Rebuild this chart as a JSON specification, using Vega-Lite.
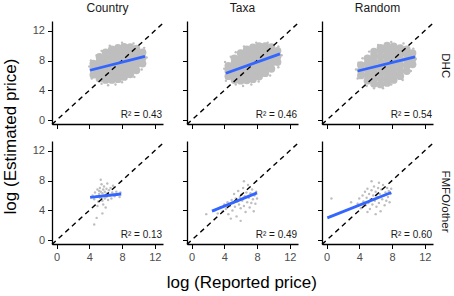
{
"$schema":"https://vega.github.io/schema/vega-lite/v6.json",
"background":"white",
"padding":{"left":2,"top":2,"right":0,"bottom":0},
"config":{
 "view":{"stroke":null},
 "font":"Liberation Sans",
 "axis":{"grid":false,"domainColor":"black","domainWidth":1.3,"tickColor":"black","tickWidth":1,"tickSize":4.5,"labelColor":"#4D4D4D","labelFontSize":11,"labelPadding":3,"titleFontSize":17,"titleFontWeight":"normal","titleColor":"black","titlePadding":7},
 "title":{"fontSize":12,"fontWeight":"normal","color":"#1A1A1A","offset":5}
},
"data":{"values":[
{"c":"Country","r":"DHC","k":"p","x":4.5,"y":6.1},{"c":"Country","r":"DHC","k":"p","x":4.5,"y":6.85},{"c":"Country","r":"DHC","k":"p","x":4.5,"y":7.6},
{"c":"Country","r":"DHC","k":"p","x":5.25,"y":5.6},{"c":"Country","r":"DHC","k":"p","x":5.25,"y":6.35},{"c":"Country","r":"DHC","k":"p","x":5.25,"y":7.1},{"c":"Country","r":"DHC","k":"p","x":5.25,"y":7.85},{"c":"Country","r":"DHC","k":"p","x":5.25,"y":8.5},
{"c":"Country","r":"DHC","k":"p","x":6.0,"y":5.4},{"c":"Country","r":"DHC","k":"p","x":6.0,"y":6.15},{"c":"Country","r":"DHC","k":"p","x":6.0,"y":6.9},{"c":"Country","r":"DHC","k":"p","x":6.0,"y":7.65},{"c":"Country","r":"DHC","k":"p","x":6.0,"y":8.4},{"c":"Country","r":"DHC","k":"p","x":6.0,"y":9.1},
{"c":"Country","r":"DHC","k":"p","x":6.75,"y":5.4},{"c":"Country","r":"DHC","k":"p","x":6.75,"y":6.15},{"c":"Country","r":"DHC","k":"p","x":6.75,"y":6.9},{"c":"Country","r":"DHC","k":"p","x":6.75,"y":7.65},{"c":"Country","r":"DHC","k":"p","x":6.75,"y":8.4},{"c":"Country","r":"DHC","k":"p","x":6.75,"y":9.15},{"c":"Country","r":"DHC","k":"p","x":6.75,"y":9.5},
{"c":"Country","r":"DHC","k":"p","x":7.5,"y":5.5},{"c":"Country","r":"DHC","k":"p","x":7.5,"y":6.25},{"c":"Country","r":"DHC","k":"p","x":7.5,"y":7.0},{"c":"Country","r":"DHC","k":"p","x":7.5,"y":7.75},{"c":"Country","r":"DHC","k":"p","x":7.5,"y":8.5},{"c":"Country","r":"DHC","k":"p","x":7.5,"y":9.25},{"c":"Country","r":"DHC","k":"p","x":7.5,"y":9.7},
{"c":"Country","r":"DHC","k":"p","x":8.25,"y":5.8},{"c":"Country","r":"DHC","k":"p","x":8.25,"y":6.5},{"c":"Country","r":"DHC","k":"p","x":8.25,"y":7.25},{"c":"Country","r":"DHC","k":"p","x":8.25,"y":8.0},{"c":"Country","r":"DHC","k":"p","x":8.25,"y":8.75},{"c":"Country","r":"DHC","k":"p","x":8.25,"y":9.5},{"c":"Country","r":"DHC","k":"p","x":8.25,"y":9.85},
{"c":"Country","r":"DHC","k":"p","x":9.0,"y":6.15},{"c":"Country","r":"DHC","k":"p","x":9.0,"y":6.9},{"c":"Country","r":"DHC","k":"p","x":9.0,"y":7.65},{"c":"Country","r":"DHC","k":"p","x":9.0,"y":8.4},{"c":"Country","r":"DHC","k":"p","x":9.0,"y":9.15},{"c":"Country","r":"DHC","k":"p","x":9.0,"y":9.8},
{"c":"Country","r":"DHC","k":"p","x":9.75,"y":6.7},{"c":"Country","r":"DHC","k":"p","x":9.75,"y":7.45},{"c":"Country","r":"DHC","k":"p","x":9.75,"y":8.2},{"c":"Country","r":"DHC","k":"p","x":9.75,"y":8.95},{"c":"Country","r":"DHC","k":"p","x":9.75,"y":9.6},
{"c":"Country","r":"DHC","k":"p","x":10.5,"y":7.6},{"c":"Country","r":"DHC","k":"p","x":10.5,"y":8.35},{"c":"Country","r":"DHC","k":"p","x":10.5,"y":9.1},
{"c":"Country","r":"DHC","k":"q","x":4.0,"y":7.2},{"c":"Country","r":"DHC","k":"q","x":4.3,"y":5.6},{"c":"Country","r":"DHC","k":"q","x":4.9,"y":8.7},{"c":"Country","r":"DHC","k":"q","x":5.5,"y":4.9},{"c":"Country","r":"DHC","k":"q","x":6.3,"y":4.7},{"c":"Country","r":"DHC","k":"q","x":7.2,"y":4.8},{"c":"Country","r":"DHC","k":"q","x":8.0,"y":5.1},{"c":"Country","r":"DHC","k":"q","x":9.5,"y":5.8},{"c":"Country","r":"DHC","k":"q","x":10.4,"y":6.8},{"c":"Country","r":"DHC","k":"q","x":11.0,"y":8.4},{"c":"Country","r":"DHC","k":"q","x":10.7,"y":9.7},{"c":"Country","r":"DHC","k":"q","x":9.4,"y":10.3},{"c":"Country","r":"DHC","k":"q","x":8.0,"y":10.4},{"c":"Country","r":"DHC","k":"q","x":6.5,"y":10.0},{"c":"Country","r":"DHC","k":"q","x":5.5,"y":9.3},{"c":"Country","r":"DHC","k":"q","x":4.2,"y":8.0},
{"c":"Country","r":"DHC","k":"d","x":-0.55,"y":-0.55},{"c":"Country","r":"DHC","k":"d","x":13,"y":13},
{"c":"Country","r":"DHC","k":"f","x":4.1,"y":6.7},{"c":"Country","r":"DHC","k":"f","x":10.8,"y":8.55},
{"c":"Country","r":"DHC","k":"t","x":12.9,"y":0.3,"lab":"R² = 0.43"},

{"c":"Taxa","r":"DHC","k":"p","x":4.5,"y":5.9},{"c":"Taxa","r":"DHC","k":"p","x":4.5,"y":6.6},{"c":"Taxa","r":"DHC","k":"p","x":4.5,"y":7.3},
{"c":"Taxa","r":"DHC","k":"p","x":5.25,"y":5.4},{"c":"Taxa","r":"DHC","k":"p","x":5.25,"y":6.15},{"c":"Taxa","r":"DHC","k":"p","x":5.25,"y":6.9},{"c":"Taxa","r":"DHC","k":"p","x":5.25,"y":7.65},{"c":"Taxa","r":"DHC","k":"p","x":5.25,"y":8.3},
{"c":"Taxa","r":"DHC","k":"p","x":6.0,"y":5.3},{"c":"Taxa","r":"DHC","k":"p","x":6.0,"y":6.05},{"c":"Taxa","r":"DHC","k":"p","x":6.0,"y":6.8},{"c":"Taxa","r":"DHC","k":"p","x":6.0,"y":7.55},{"c":"Taxa","r":"DHC","k":"p","x":6.0,"y":8.3},{"c":"Taxa","r":"DHC","k":"p","x":6.0,"y":9.0},
{"c":"Taxa","r":"DHC","k":"p","x":6.75,"y":5.35},{"c":"Taxa","r":"DHC","k":"p","x":6.75,"y":6.1},{"c":"Taxa","r":"DHC","k":"p","x":6.75,"y":6.85},{"c":"Taxa","r":"DHC","k":"p","x":6.75,"y":7.6},{"c":"Taxa","r":"DHC","k":"p","x":6.75,"y":8.35},{"c":"Taxa","r":"DHC","k":"p","x":6.75,"y":9.1},{"c":"Taxa","r":"DHC","k":"p","x":6.75,"y":9.5},
{"c":"Taxa","r":"DHC","k":"p","x":7.5,"y":5.5},{"c":"Taxa","r":"DHC","k":"p","x":7.5,"y":6.25},{"c":"Taxa","r":"DHC","k":"p","x":7.5,"y":7.0},{"c":"Taxa","r":"DHC","k":"p","x":7.5,"y":7.75},{"c":"Taxa","r":"DHC","k":"p","x":7.5,"y":8.5},{"c":"Taxa","r":"DHC","k":"p","x":7.5,"y":9.25},{"c":"Taxa","r":"DHC","k":"p","x":7.5,"y":9.75},
{"c":"Taxa","r":"DHC","k":"p","x":8.25,"y":5.85},{"c":"Taxa","r":"DHC","k":"p","x":8.25,"y":6.6},{"c":"Taxa","r":"DHC","k":"p","x":8.25,"y":7.35},{"c":"Taxa","r":"DHC","k":"p","x":8.25,"y":8.1},{"c":"Taxa","r":"DHC","k":"p","x":8.25,"y":8.85},{"c":"Taxa","r":"DHC","k":"p","x":8.25,"y":9.6},{"c":"Taxa","r":"DHC","k":"p","x":8.25,"y":9.95},
{"c":"Taxa","r":"DHC","k":"p","x":9.0,"y":6.3},{"c":"Taxa","r":"DHC","k":"p","x":9.0,"y":7.05},{"c":"Taxa","r":"DHC","k":"p","x":9.0,"y":7.8},{"c":"Taxa","r":"DHC","k":"p","x":9.0,"y":8.55},{"c":"Taxa","r":"DHC","k":"p","x":9.0,"y":9.3},{"c":"Taxa","r":"DHC","k":"p","x":9.0,"y":9.95},
{"c":"Taxa","r":"DHC","k":"p","x":9.75,"y":6.9},{"c":"Taxa","r":"DHC","k":"p","x":9.75,"y":7.65},{"c":"Taxa","r":"DHC","k":"p","x":9.75,"y":8.4},{"c":"Taxa","r":"DHC","k":"p","x":9.75,"y":9.15},{"c":"Taxa","r":"DHC","k":"p","x":9.75,"y":9.8},
{"c":"Taxa","r":"DHC","k":"p","x":10.5,"y":7.8},{"c":"Taxa","r":"DHC","k":"p","x":10.5,"y":8.55},{"c":"Taxa","r":"DHC","k":"p","x":10.5,"y":9.3},
{"c":"Taxa","r":"DHC","k":"q","x":4.0,"y":6.9},{"c":"Taxa","r":"DHC","k":"q","x":4.2,"y":5.3},{"c":"Taxa","r":"DHC","k":"q","x":4.8,"y":8.5},{"c":"Taxa","r":"DHC","k":"q","x":5.4,"y":4.8},{"c":"Taxa","r":"DHC","k":"q","x":6.3,"y":4.6},{"c":"Taxa","r":"DHC","k":"q","x":7.3,"y":4.8},{"c":"Taxa","r":"DHC","k":"q","x":8.2,"y":5.2},{"c":"Taxa","r":"DHC","k":"q","x":9.6,"y":6.0},{"c":"Taxa","r":"DHC","k":"q","x":10.6,"y":7.1},{"c":"Taxa","r":"DHC","k":"q","x":11.0,"y":8.7},{"c":"Taxa","r":"DHC","k":"q","x":10.6,"y":9.9},{"c":"Taxa","r":"DHC","k":"q","x":9.3,"y":10.4},{"c":"Taxa","r":"DHC","k":"q","x":7.9,"y":10.4},{"c":"Taxa","r":"DHC","k":"q","x":6.4,"y":9.9},{"c":"Taxa","r":"DHC","k":"q","x":5.4,"y":9.1},{"c":"Taxa","r":"DHC","k":"q","x":4.1,"y":7.8},
{"c":"Taxa","r":"DHC","k":"d","x":-0.55,"y":-0.55},{"c":"Taxa","r":"DHC","k":"d","x":13,"y":13},
{"c":"Taxa","r":"DHC","k":"f","x":4.2,"y":6.3},{"c":"Taxa","r":"DHC","k":"f","x":10.8,"y":8.9},
{"c":"Taxa","r":"DHC","k":"t","x":12.9,"y":0.3,"lab":"R² = 0.46"},

{"c":"Random","r":"DHC","k":"p","x":4.2,"y":6.0},{"c":"Random","r":"DHC","k":"p","x":4.2,"y":6.7},{"c":"Random","r":"DHC","k":"p","x":4.2,"y":7.4},
{"c":"Random","r":"DHC","k":"p","x":5.0,"y":5.3},{"c":"Random","r":"DHC","k":"p","x":5.0,"y":6.05},{"c":"Random","r":"DHC","k":"p","x":5.0,"y":6.8},{"c":"Random","r":"DHC","k":"p","x":5.0,"y":7.55},{"c":"Random","r":"DHC","k":"p","x":5.0,"y":8.3},
{"c":"Random","r":"DHC","k":"p","x":5.8,"y":4.9},{"c":"Random","r":"DHC","k":"p","x":5.8,"y":5.65},{"c":"Random","r":"DHC","k":"p","x":5.8,"y":6.4},{"c":"Random","r":"DHC","k":"p","x":5.8,"y":7.15},{"c":"Random","r":"DHC","k":"p","x":5.8,"y":7.9},{"c":"Random","r":"DHC","k":"p","x":5.8,"y":8.65},{"c":"Random","r":"DHC","k":"p","x":5.8,"y":9.2},
{"c":"Random","r":"DHC","k":"p","x":6.6,"y":4.8},{"c":"Random","r":"DHC","k":"p","x":6.6,"y":5.55},{"c":"Random","r":"DHC","k":"p","x":6.6,"y":6.3},{"c":"Random","r":"DHC","k":"p","x":6.6,"y":7.05},{"c":"Random","r":"DHC","k":"p","x":6.6,"y":7.8},{"c":"Random","r":"DHC","k":"p","x":6.6,"y":8.55},{"c":"Random","r":"DHC","k":"p","x":6.6,"y":9.3},{"c":"Random","r":"DHC","k":"p","x":6.6,"y":9.7},
{"c":"Random","r":"DHC","k":"p","x":7.4,"y":5.0},{"c":"Random","r":"DHC","k":"p","x":7.4,"y":5.75},{"c":"Random","r":"DHC","k":"p","x":7.4,"y":6.5},{"c":"Random","r":"DHC","k":"p","x":7.4,"y":7.25},{"c":"Random","r":"DHC","k":"p","x":7.4,"y":8.0},{"c":"Random","r":"DHC","k":"p","x":7.4,"y":8.75},{"c":"Random","r":"DHC","k":"p","x":7.4,"y":9.5},{"c":"Random","r":"DHC","k":"p","x":7.4,"y":10.0},
{"c":"Random","r":"DHC","k":"p","x":8.2,"y":5.4},{"c":"Random","r":"DHC","k":"p","x":8.2,"y":6.15},{"c":"Random","r":"DHC","k":"p","x":8.2,"y":6.9},{"c":"Random","r":"DHC","k":"p","x":8.2,"y":7.65},{"c":"Random","r":"DHC","k":"p","x":8.2,"y":8.4},{"c":"Random","r":"DHC","k":"p","x":8.2,"y":9.15},{"c":"Random","r":"DHC","k":"p","x":8.2,"y":9.9},
{"c":"Random","r":"DHC","k":"p","x":9.0,"y":5.9},{"c":"Random","r":"DHC","k":"p","x":9.0,"y":6.65},{"c":"Random","r":"DHC","k":"p","x":9.0,"y":7.4},{"c":"Random","r":"DHC","k":"p","x":9.0,"y":8.15},{"c":"Random","r":"DHC","k":"p","x":9.0,"y":8.9},{"c":"Random","r":"DHC","k":"p","x":9.0,"y":9.65},
{"c":"Random","r":"DHC","k":"p","x":9.8,"y":6.6},{"c":"Random","r":"DHC","k":"p","x":9.8,"y":7.35},{"c":"Random","r":"DHC","k":"p","x":9.8,"y":8.1},{"c":"Random","r":"DHC","k":"p","x":9.8,"y":8.85},{"c":"Random","r":"DHC","k":"p","x":9.8,"y":9.5},
{"c":"Random","r":"DHC","k":"p","x":10.5,"y":7.5},{"c":"Random","r":"DHC","k":"p","x":10.5,"y":8.25},{"c":"Random","r":"DHC","k":"p","x":10.5,"y":9.0},
{"c":"Random","r":"DHC","k":"q","x":3.6,"y":6.8},{"c":"Random","r":"DHC","k":"q","x":3.8,"y":5.6},{"c":"Random","r":"DHC","k":"q","x":4.4,"y":8.3},{"c":"Random","r":"DHC","k":"q","x":4.9,"y":4.6},{"c":"Random","r":"DHC","k":"q","x":5.8,"y":4.3},{"c":"Random","r":"DHC","k":"q","x":6.9,"y":4.3},{"c":"Random","r":"DHC","k":"q","x":7.9,"y":4.8},{"c":"Random","r":"DHC","k":"q","x":9.3,"y":5.4},{"c":"Random","r":"DHC","k":"q","x":10.3,"y":6.6},{"c":"Random","r":"DHC","k":"q","x":10.9,"y":8.2},{"c":"Random","r":"DHC","k":"q","x":10.6,"y":9.6},{"c":"Random","r":"DHC","k":"q","x":9.4,"y":10.3},{"c":"Random","r":"DHC","k":"q","x":7.9,"y":10.5},{"c":"Random","r":"DHC","k":"q","x":6.3,"y":10.1},{"c":"Random","r":"DHC","k":"q","x":5.2,"y":9.2},{"c":"Random","r":"DHC","k":"q","x":3.9,"y":7.7},
{"c":"Random","r":"DHC","k":"d","x":-0.55,"y":-0.55},{"c":"Random","r":"DHC","k":"d","x":13,"y":13},
{"c":"Random","r":"DHC","k":"f","x":3.8,"y":6.6},{"c":"Random","r":"DHC","k":"f","x":10.8,"y":8.5},
{"c":"Random","r":"DHC","k":"t","x":12.9,"y":0.3,"lab":"R² = 0.54"},

{"c":"Country","r":"FMFO","k":"q","x":4.4,"y":6.0},{"c":"Country","r":"FMFO","k":"q","x":4.6,"y":5.5},{"c":"Country","r":"FMFO","k":"q","x":4.7,"y":6.4},{"c":"Country","r":"FMFO","k":"q","x":4.9,"y":5.9},{"c":"Country","r":"FMFO","k":"q","x":5.0,"y":6.8},{"c":"Country","r":"FMFO","k":"q","x":5.1,"y":5.2},{"c":"Country","r":"FMFO","k":"q","x":5.2,"y":6.2},{"c":"Country","r":"FMFO","k":"q","x":5.3,"y":5.7},{"c":"Country","r":"FMFO","k":"q","x":5.3,"y":7.0},{"c":"Country","r":"FMFO","k":"q","x":5.4,"y":6.5},{"c":"Country","r":"FMFO","k":"q","x":5.5,"y":5.9},{"c":"Country","r":"FMFO","k":"q","x":5.5,"y":7.5},{"c":"Country","r":"FMFO","k":"q","x":5.6,"y":6.3},{"c":"Country","r":"FMFO","k":"q","x":5.6,"y":5.3},{"c":"Country","r":"FMFO","k":"q","x":5.7,"y":6.8},{"c":"Country","r":"FMFO","k":"q","x":5.7,"y":4.8},{"c":"Country","r":"FMFO","k":"q","x":5.8,"y":6.0},{"c":"Country","r":"FMFO","k":"q","x":5.8,"y":7.2},{"c":"Country","r":"FMFO","k":"q","x":5.9,"y":5.6},{"c":"Country","r":"FMFO","k":"q","x":5.9,"y":6.5},{"c":"Country","r":"FMFO","k":"q","x":6.0,"y":6.1},{"c":"Country","r":"FMFO","k":"q","x":6.0,"y":4.4},{"c":"Country","r":"FMFO","k":"q","x":6.1,"y":6.9},{"c":"Country","r":"FMFO","k":"q","x":6.1,"y":5.8},{"c":"Country","r":"FMFO","k":"q","x":6.2,"y":6.3},{"c":"Country","r":"FMFO","k":"q","x":6.3,"y":5.4},{"c":"Country","r":"FMFO","k":"q","x":6.4,"y":6.7},{"c":"Country","r":"FMFO","k":"q","x":6.5,"y":6.0},{"c":"Country","r":"FMFO","k":"q","x":6.6,"y":7.0},{"c":"Country","r":"FMFO","k":"q","x":6.7,"y":5.6},{"c":"Country","r":"FMFO","k":"q","x":6.8,"y":6.4},{"c":"Country","r":"FMFO","k":"q","x":7.0,"y":6.1},{"c":"Country","r":"FMFO","k":"q","x":7.1,"y":5.9},{"c":"Country","r":"FMFO","k":"q","x":7.3,"y":6.5},{"c":"Country","r":"FMFO","k":"q","x":7.5,"y":6.2},{"c":"Country","r":"FMFO","k":"q","x":7.7,"y":5.8},{"c":"Country","r":"FMFO","k":"q","x":7.8,"y":6.4},{"c":"Country","r":"FMFO","k":"q","x":5.4,"y":8.1},{"c":"Country","r":"FMFO","k":"q","x":4.6,"y":2.1},{"c":"Country","r":"FMFO","k":"q","x":4.9,"y":3.0},{"c":"Country","r":"FMFO","k":"q","x":5.6,"y":3.6},{"c":"Country","r":"FMFO","k":"q","x":6.2,"y":7.6},{"c":"Country","r":"FMFO","k":"q","x":5.0,"y":4.6},{"c":"Country","r":"FMFO","k":"q","x":6.9,"y":7.3},{"c":"Country","r":"FMFO","k":"q","x":5.2,"y":6.6},
{"c":"Country","r":"FMFO","k":"d","x":-0.55,"y":-0.55},{"c":"Country","r":"FMFO","k":"d","x":13,"y":13},
{"c":"Country","r":"FMFO","k":"f","x":4.1,"y":5.75},{"c":"Country","r":"FMFO","k":"f","x":7.9,"y":6.2},
{"c":"Country","r":"FMFO","k":"t","x":12.9,"y":0.3,"lab":"R² = 0.13"},

{"c":"Taxa","r":"FMFO","k":"q","x":2.8,"y":4.0},{"c":"Taxa","r":"FMFO","k":"q","x":3.2,"y":3.6},{"c":"Taxa","r":"FMFO","k":"q","x":3.5,"y":4.4},{"c":"Taxa","r":"FMFO","k":"q","x":3.8,"y":3.9},{"c":"Taxa","r":"FMFO","k":"q","x":4.0,"y":4.8},{"c":"Taxa","r":"FMFO","k":"q","x":4.2,"y":4.2},{"c":"Taxa","r":"FMFO","k":"q","x":4.4,"y":5.1},{"c":"Taxa","r":"FMFO","k":"q","x":4.5,"y":3.5},{"c":"Taxa","r":"FMFO","k":"q","x":4.7,"y":4.6},{"c":"Taxa","r":"FMFO","k":"q","x":4.9,"y":5.4},{"c":"Taxa","r":"FMFO","k":"q","x":5.0,"y":4.0},{"c":"Taxa","r":"FMFO","k":"q","x":5.1,"y":5.0},{"c":"Taxa","r":"FMFO","k":"q","x":5.2,"y":6.2},{"c":"Taxa","r":"FMFO","k":"q","x":5.3,"y":4.5},{"c":"Taxa","r":"FMFO","k":"q","x":5.4,"y":5.6},{"c":"Taxa","r":"FMFO","k":"q","x":5.5,"y":3.2},{"c":"Taxa","r":"FMFO","k":"q","x":5.6,"y":5.2},{"c":"Taxa","r":"FMFO","k":"q","x":5.7,"y":6.6},{"c":"Taxa","r":"FMFO","k":"q","x":5.8,"y":4.8},{"c":"Taxa","r":"FMFO","k":"q","x":5.9,"y":5.8},{"c":"Taxa","r":"FMFO","k":"q","x":6.0,"y":4.3},{"c":"Taxa","r":"FMFO","k":"q","x":6.1,"y":6.1},{"c":"Taxa","r":"FMFO","k":"q","x":6.2,"y":5.3},{"c":"Taxa","r":"FMFO","k":"q","x":6.3,"y":7.0},{"c":"Taxa","r":"FMFO","k":"q","x":6.4,"y":4.6},{"c":"Taxa","r":"FMFO","k":"q","x":6.5,"y":5.9},{"c":"Taxa","r":"FMFO","k":"q","x":6.6,"y":3.8},{"c":"Taxa","r":"FMFO","k":"q","x":6.7,"y":6.4},{"c":"Taxa","r":"FMFO","k":"q","x":6.8,"y":5.1},{"c":"Taxa","r":"FMFO","k":"q","x":6.9,"y":7.4},{"c":"Taxa","r":"FMFO","k":"q","x":7.0,"y":5.7},{"c":"Taxa","r":"FMFO","k":"q","x":7.1,"y":4.4},{"c":"Taxa","r":"FMFO","k":"q","x":7.2,"y":6.3},{"c":"Taxa","r":"FMFO","k":"q","x":7.3,"y":5.0},{"c":"Taxa","r":"FMFO","k":"q","x":7.4,"y":6.8},{"c":"Taxa","r":"FMFO","k":"q","x":7.5,"y":5.5},{"c":"Taxa","r":"FMFO","k":"q","x":7.6,"y":3.9},{"c":"Taxa","r":"FMFO","k":"q","x":7.7,"y":6.0},{"c":"Taxa","r":"FMFO","k":"q","x":7.8,"y":4.9},{"c":"Taxa","r":"FMFO","k":"q","x":7.9,"y":6.5},{"c":"Taxa","r":"FMFO","k":"q","x":8.0,"y":5.6},{"c":"Taxa","r":"FMFO","k":"q","x":6.0,"y":2.6},{"c":"Taxa","r":"FMFO","k":"q","x":4.8,"y":2.9},{"c":"Taxa","r":"FMFO","k":"q","x":1.8,"y":3.5},{"c":"Taxa","r":"FMFO","k":"q","x":6.4,"y":7.9},
{"c":"Taxa","r":"FMFO","k":"d","x":-0.55,"y":-0.55},{"c":"Taxa","r":"FMFO","k":"d","x":13,"y":13},
{"c":"Taxa","r":"FMFO","k":"f","x":2.5,"y":3.9},{"c":"Taxa","r":"FMFO","k":"f","x":8.0,"y":6.35},
{"c":"Taxa","r":"FMFO","k":"t","x":12.9,"y":0.3,"lab":"R² = 0.49"},

{"c":"Random","r":"FMFO","k":"q","x":0.6,"y":5.6},{"c":"Random","r":"FMFO","k":"q","x":3.0,"y":5.1},{"c":"Random","r":"FMFO","k":"q","x":3.8,"y":4.9},{"c":"Random","r":"FMFO","k":"q","x":4.0,"y":5.6},{"c":"Random","r":"FMFO","k":"q","x":4.2,"y":4.3},{"c":"Random","r":"FMFO","k":"q","x":4.4,"y":6.0},{"c":"Random","r":"FMFO","k":"q","x":4.5,"y":5.2},{"c":"Random","r":"FMFO","k":"q","x":4.7,"y":6.5},{"c":"Random","r":"FMFO","k":"q","x":4.8,"y":4.7},{"c":"Random","r":"FMFO","k":"q","x":4.9,"y":5.7},{"c":"Random","r":"FMFO","k":"q","x":5.0,"y":6.9},{"c":"Random","r":"FMFO","k":"q","x":5.1,"y":5.0},{"c":"Random","r":"FMFO","k":"q","x":5.2,"y":6.2},{"c":"Random","r":"FMFO","k":"q","x":5.3,"y":4.2},{"c":"Random","r":"FMFO","k":"q","x":5.4,"y":5.5},{"c":"Random","r":"FMFO","k":"q","x":5.5,"y":6.7},{"c":"Random","r":"FMFO","k":"q","x":5.6,"y":4.8},{"c":"Random","r":"FMFO","k":"q","x":5.7,"y":6.0},{"c":"Random","r":"FMFO","k":"q","x":5.8,"y":7.2},{"c":"Random","r":"FMFO","k":"q","x":5.9,"y":5.3},{"c":"Random","r":"FMFO","k":"q","x":6.0,"y":6.5},{"c":"Random","r":"FMFO","k":"q","x":6.1,"y":4.5},{"c":"Random","r":"FMFO","k":"q","x":6.2,"y":5.8},{"c":"Random","r":"FMFO","k":"q","x":6.3,"y":7.0},{"c":"Random","r":"FMFO","k":"q","x":6.4,"y":5.0},{"c":"Random","r":"FMFO","k":"q","x":6.5,"y":6.2},{"c":"Random","r":"FMFO","k":"q","x":6.6,"y":3.9},{"c":"Random","r":"FMFO","k":"q","x":6.7,"y":6.8},{"c":"Random","r":"FMFO","k":"q","x":6.8,"y":5.5},{"c":"Random","r":"FMFO","k":"q","x":6.9,"y":7.4},{"c":"Random","r":"FMFO","k":"q","x":7.0,"y":6.0},{"c":"Random","r":"FMFO","k":"q","x":7.1,"y":4.7},{"c":"Random","r":"FMFO","k":"q","x":7.2,"y":6.4},{"c":"Random","r":"FMFO","k":"q","x":7.3,"y":5.3},{"c":"Random","r":"FMFO","k":"q","x":7.4,"y":7.0},{"c":"Random","r":"FMFO","k":"q","x":7.5,"y":5.8},{"c":"Random","r":"FMFO","k":"q","x":7.6,"y":6.6},{"c":"Random","r":"FMFO","k":"q","x":7.7,"y":5.1},{"c":"Random","r":"FMFO","k":"q","x":7.8,"y":6.2},{"c":"Random","r":"FMFO","k":"q","x":7.9,"y":6.9},{"c":"Random","r":"FMFO","k":"q","x":6.0,"y":3.5},{"c":"Random","r":"FMFO","k":"q","x":5.0,"y":3.8},{"c":"Random","r":"FMFO","k":"q","x":6.4,"y":7.7},{"c":"Random","r":"FMFO","k":"q","x":5.5,"y":7.9},
{"c":"Random","r":"FMFO","k":"d","x":-0.55,"y":-0.55},{"c":"Random","r":"FMFO","k":"d","x":13,"y":13},
{"c":"Random","r":"FMFO","k":"f","x":0.1,"y":3.0},{"c":"Random","r":"FMFO","k":"f","x":7.9,"y":6.4},
{"c":"Random","r":"FMFO","k":"t","x":12.9,"y":0.3,"lab":"R² = 0.60"}
]},
"title":{"text":"log (Estimated price)","orient":"left","anchor":"middle","fontSize":17,"color":"black","offset":12,"dx":10},
"vconcat":[
{"title":{"text":"log (Reported price)","orient":"bottom","anchor":"middle","fontSize":17,"color":"black","offset":12},
 "spacing":11,
 "vconcat":[
{"title":{"text":"DHC","orient":"right","anchor":"middle","fontSize":11.5,"offset":4},"spacing":16,"hconcat":[
 {"width":111,"height":103,"title":{"text":"Country"},
  "transform":[{"filter":"datum.c=='Country' && datum.r=='DHC'"}],
  "encoding":{"x":{"field":"x","type":"quantitative","scale":{"domain":[-0.55,13],"nice":false,"zero":false},"axis":{"values":[0,4,8,12],"labels":false,"title":null}},
   "y":{"field":"y","type":"quantitative","scale":{"domain":[-0.5,13.3],"nice":false,"zero":false},"axis":{"values":[0,4,8,12],"title":null}}},
  "layer":[
   {"transform":[{"filter":"datum.k=='p'"}],"mark":{"type":"circle","size":60,"color":"#BEBEBE","opacity":1}},
   {"transform":[{"filter":"datum.k=='q'"}],"mark":{"type":"circle","size":6,"color":"#BEBEBE","opacity":1}},
   {"transform":[{"filter":"datum.k=='d'"}],"mark":{"type":"line","color":"black","strokeDash":[5,4],"strokeWidth":1.4},"encoding":{}},
   {"transform":[{"filter":"datum.k=='f'"}],"mark":{"type":"line","color":"#3366FF","strokeWidth":2.8},"encoding":{}},
   {"transform":[{"filter":"datum.k=='t'"}],"mark":{"type":"text","align":"right","baseline":"alphabetic","fontSize":10,"color":"#1A1A1A"},"encoding":{"text":{"field":"lab","type":"nominal"}}}
  ]},
 {"width":111,"height":103,"title":{"text":"Taxa"},
  "transform":[{"filter":"datum.c=='Taxa' && datum.r=='DHC'"}],
  "encoding":{"x":{"field":"x","type":"quantitative","scale":{"domain":[-0.55,13],"nice":false,"zero":false},"axis":{"values":[0,4,8,12],"labels":false,"title":null}},
   "y":{"field":"y","type":"quantitative","scale":{"domain":[-0.5,13.3],"nice":false,"zero":false},"axis":{"values":[0,4,8,12],"labels":false,"title":null}}},
  "layer":[
   {"transform":[{"filter":"datum.k=='p'"}],"mark":{"type":"circle","size":60,"color":"#BEBEBE","opacity":1}},
   {"transform":[{"filter":"datum.k=='q'"}],"mark":{"type":"circle","size":6,"color":"#BEBEBE","opacity":1}},
   {"transform":[{"filter":"datum.k=='d'"}],"mark":{"type":"line","color":"black","strokeDash":[5,4],"strokeWidth":1.4},"encoding":{}},
   {"transform":[{"filter":"datum.k=='f'"}],"mark":{"type":"line","color":"#3366FF","strokeWidth":2.8},"encoding":{}},
   {"transform":[{"filter":"datum.k=='t'"}],"mark":{"type":"text","align":"right","baseline":"alphabetic","fontSize":10,"color":"#1A1A1A"},"encoding":{"text":{"field":"lab","type":"nominal"}}}
  ]},
 {"width":111,"height":103,"title":{"text":"Random"},
  "transform":[{"filter":"datum.c=='Random' && datum.r=='DHC'"}],
  "encoding":{"x":{"field":"x","type":"quantitative","scale":{"domain":[-0.55,13],"nice":false,"zero":false},"axis":{"values":[0,4,8,12],"labels":false,"title":null}},
   "y":{"field":"y","type":"quantitative","scale":{"domain":[-0.5,13.3],"nice":false,"zero":false},"axis":{"values":[0,4,8,12],"labels":false,"title":null}}},
  "layer":[
   {"transform":[{"filter":"datum.k=='p'"}],"mark":{"type":"circle","size":60,"color":"#BEBEBE","opacity":1}},
   {"transform":[{"filter":"datum.k=='q'"}],"mark":{"type":"circle","size":6,"color":"#BEBEBE","opacity":1}},
   {"transform":[{"filter":"datum.k=='d'"}],"mark":{"type":"line","color":"black","strokeDash":[5,4],"strokeWidth":1.4},"encoding":{}},
   {"transform":[{"filter":"datum.k=='f'"}],"mark":{"type":"line","color":"#3366FF","strokeWidth":2.8},"encoding":{}},
   {"transform":[{"filter":"datum.k=='t'"}],"mark":{"type":"text","align":"right","baseline":"alphabetic","fontSize":10,"color":"#1A1A1A"},"encoding":{"text":{"field":"lab","type":"nominal"}}}
  ]}
]},
{"title":{"text":"FMFO/other","orient":"right","anchor":"middle","fontSize":11.5,"offset":4},"spacing":16,"hconcat":[
 {"width":111,"height":103,
  "transform":[{"filter":"datum.c=='Country' && datum.r=='FMFO'"}],
  "encoding":{"x":{"field":"x","type":"quantitative","scale":{"domain":[-0.55,13],"nice":false,"zero":false},"axis":{"values":[0,4,8,12],"title":null}},
   "y":{"field":"y","type":"quantitative","scale":{"domain":[-0.5,13.3],"nice":false,"zero":false},"axis":{"values":[0,4,8,12],"title":null}}},
  "layer":[
   {"transform":[{"filter":"datum.k=='q'"}],"mark":{"type":"circle","size":6,"color":"#BEBEBE","opacity":1}},
   {"transform":[{"filter":"datum.k=='d'"}],"mark":{"type":"line","color":"black","strokeDash":[5,4],"strokeWidth":1.4},"encoding":{}},
   {"transform":[{"filter":"datum.k=='f'"}],"mark":{"type":"line","color":"#3366FF","strokeWidth":2.8},"encoding":{}},
   {"transform":[{"filter":"datum.k=='t'"}],"mark":{"type":"text","align":"right","baseline":"alphabetic","fontSize":10,"color":"#1A1A1A"},"encoding":{"text":{"field":"lab","type":"nominal"}}}
  ]},
 {"width":111,"height":103,
  "transform":[{"filter":"datum.c=='Taxa' && datum.r=='FMFO'"}],
  "encoding":{"x":{"field":"x","type":"quantitative","scale":{"domain":[-0.55,13],"nice":false,"zero":false},"axis":{"values":[0,4,8,12],"title":null}},
   "y":{"field":"y","type":"quantitative","scale":{"domain":[-0.5,13.3],"nice":false,"zero":false},"axis":{"values":[0,4,8,12],"labels":false,"title":null}}},
  "layer":[
   {"transform":[{"filter":"datum.k=='q'"}],"mark":{"type":"circle","size":6,"color":"#BEBEBE","opacity":1}},
   {"transform":[{"filter":"datum.k=='d'"}],"mark":{"type":"line","color":"black","strokeDash":[5,4],"strokeWidth":1.4},"encoding":{}},
   {"transform":[{"filter":"datum.k=='f'"}],"mark":{"type":"line","color":"#3366FF","strokeWidth":2.8},"encoding":{}},
   {"transform":[{"filter":"datum.k=='t'"}],"mark":{"type":"text","align":"right","baseline":"alphabetic","fontSize":10,"color":"#1A1A1A"},"encoding":{"text":{"field":"lab","type":"nominal"}}}
  ]},
 {"width":111,"height":103,
  "transform":[{"filter":"datum.c=='Random' && datum.r=='FMFO'"}],
  "encoding":{"x":{"field":"x","type":"quantitative","scale":{"domain":[-0.55,13],"nice":false,"zero":false},"axis":{"values":[0,4,8,12],"title":null}},
   "y":{"field":"y","type":"quantitative","scale":{"domain":[-0.5,13.3],"nice":false,"zero":false},"axis":{"values":[0,4,8,12],"labels":false,"title":null}}},
  "layer":[
   {"transform":[{"filter":"datum.k=='q'"}],"mark":{"type":"circle","size":6,"color":"#BEBEBE","opacity":1}},
   {"transform":[{"filter":"datum.k=='d'"}],"mark":{"type":"line","color":"black","strokeDash":[5,4],"strokeWidth":1.4},"encoding":{}},
   {"transform":[{"filter":"datum.k=='f'"}],"mark":{"type":"line","color":"#3366FF","strokeWidth":2.8},"encoding":{}},
   {"transform":[{"filter":"datum.k=='t'"}],"mark":{"type":"text","align":"right","baseline":"alphabetic","fontSize":10,"color":"#1A1A1A"},"encoding":{"text":{"field":"lab","type":"nominal"}}}
  ]}
]}
]}
]
}
